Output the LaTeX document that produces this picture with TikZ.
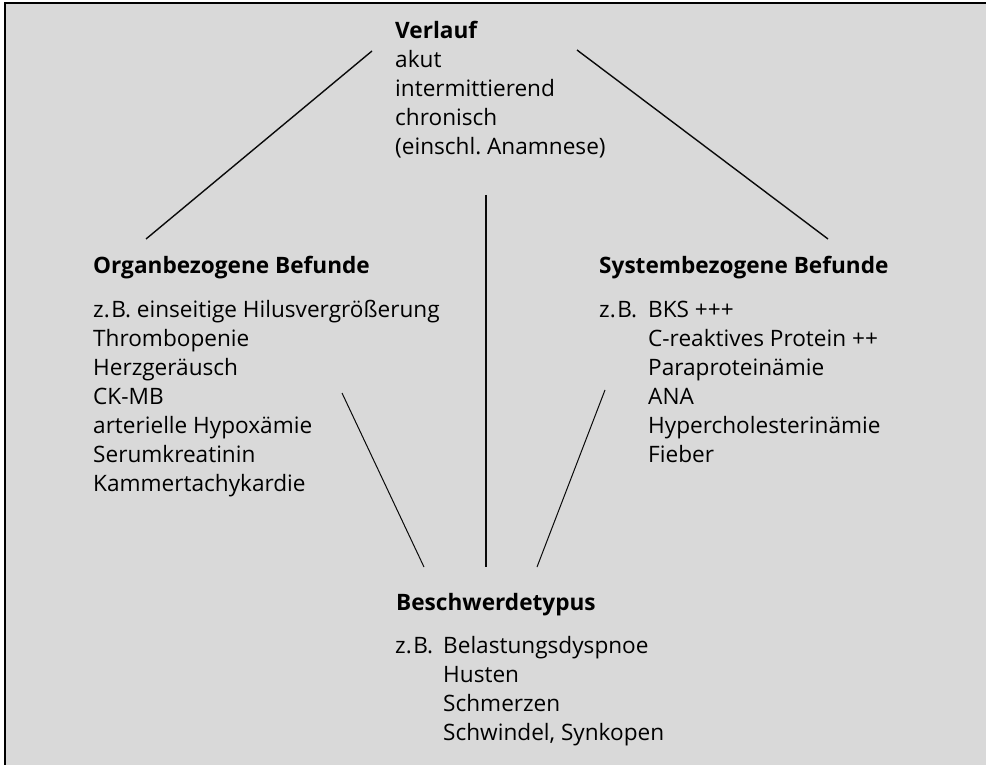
\documentclass[tikz,border=0pt]{standalone}
\usepackage{fontspec}
\setmainfont{Open Sans}
\usetikzlibrary{calc}
\usetikzlibrary{backgrounds}
\definecolor{cus-gray}{RGB}{217, 217, 217}
\definecolor{cus-line}{RGB}{10, 10, 10}
\frenchspacing

\tikzset{
	txt/.style={anchor=base west, inner sep=0pt, font=\fontsize{22.6}{29}\selectfont},
	con/.style={draw=cus-line, line width=1.4pt},
	conthin/.style={draw=cus-line, line width=1pt}
}

\begin{document}
\begin{tikzpicture}[x=1pt, y=-1pt]
\useasboundingbox (0,0) rectangle (986,765);
\fill [cus-gray] (5,3) rectangle (986,765);
\draw [line width=1.5pt] (986,3) -- (5,3) -- (5,765);

% Verlauf
\node [txt] (verlauf) at (395,39) {\begin{tabular}[t]{@{}l@{}}
	\textbf{Verlauf}\\
	akut\\
	intermittierend\\
	chronisch\\
	(einschl. Anamnese)
\end{tabular}};

% Organbezogene Befunde
\node [txt] (organ) at (93,273) {\textbf{Organbezogene Befunde}};
\node [txt] (organ-list) at (93,317) {\begin{tabular}[t]{@{}l@{}}
	z.\kern1.5pt B. einseitige Hilusvergrößerung\\
	Thrombopenie\\
	Herzgeräusch\\
	CK-MB\\
	arterielle Hypoxämie\\
	Serumkreatinin\\
	Kammertachykardie
\end{tabular}};

% Systembezogene Befunde
\node [txt] (system) at (599,273) {\textbf{Systembezogene Befunde}};
\node [txt] (system-zb) at (599,317) {z.\kern1.5pt B.};
\node [txt] (system-list) at (648,317) {\begin{tabular}[t]{@{}l@{}}
	BKS +{}+{}+\\
	C-reaktives Protein +{}+\\
	Paraproteinämie\\
	ANA\\
	Hypercholesterinämie\\
	Fieber
\end{tabular}};

% Beschwerdetypus
\node [txt] (beschwerde) at (396,610) {\textbf{Beschwerdetypus}};
\node [txt] (beschwerde-zb) at (395,653) {z.\kern1.5pt B.};
\node [txt] (beschwerde-list) at (443,653) {\begin{tabular}[t]{@{}l@{}}
	Belastungsdyspnoe\\
	Husten\\
	Schmerzen\\
	Schwindel, Synkopen
\end{tabular}};

% line ends
\coordinate (v-left) at (372,51);
\coordinate (v-right) at (577,50);
\coordinate (v-mid) at (486,195);
\coordinate (o-top) at (146,239);
\coordinate (s-top) at (828,239);
\coordinate (o-low) at (342,393);
\coordinate (s-low) at (605,390);
\coordinate (b-left) at (424,567);
\coordinate (b-mid) at (486,567);
\coordinate (b-right) at (537,567);

\draw [con] (v-left) -- (o-top);
\draw [con] (v-right) -- (s-top);
\draw [draw=cus-line, line width=2pt] (v-mid) -- (b-mid);
\draw [conthin] (o-low) -- (b-left);
\draw [conthin] (s-low) -- (b-right);
\end{tikzpicture}
\end{document}
